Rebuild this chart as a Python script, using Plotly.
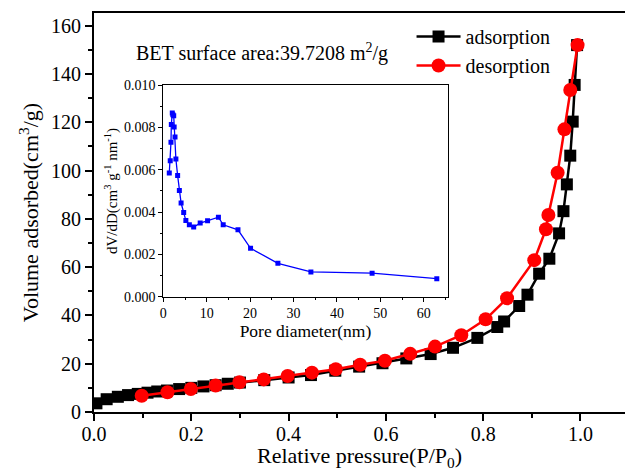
import plotly.graph_objects as go

# Main isotherm data
ads_p = [0.005, 0.026, 0.049, 0.070, 0.090, 0.110, 0.130, 0.150, 0.175, 0.200, 0.225, 0.250,
         0.275, 0.300, 0.350, 0.400, 0.446, 0.496, 0.545, 0.593, 0.642, 0.692, 0.738, 0.788,
         0.829, 0.843, 0.874, 0.891, 0.915, 0.936, 0.956, 0.965, 0.972, 0.979, 0.984, 0.988, 0.993]
ads_v = [3.6, 5.3, 6.3, 7.0, 7.5, 8.0, 8.5, 8.9, 9.5, 10.0, 10.6, 11.1,
         11.7, 12.2, 13.2, 14.3, 15.3, 17.1, 18.8, 20.2, 22.2, 24.0, 26.6, 30.7,
         35.2, 37.5, 43.9, 48.6, 57.3, 63.5, 74.0, 83.2, 94.3, 106.2, 120.3, 135.5, 152.0]

des_p = [0.098, 0.151, 0.199, 0.250, 0.299, 0.349, 0.398, 0.448, 0.497, 0.547, 0.598, 0.650,
         0.701, 0.755, 0.805, 0.849, 0.905, 0.929, 0.934, 0.953, 0.967, 0.979, 0.994]
des_v = [6.75, 8.2, 9.5, 11.0, 12.3, 13.5, 14.9, 16.3, 17.7, 19.6, 21.25, 24.1,
         27.1, 31.8, 38.4, 47.1, 62.9, 75.7, 81.6, 99.1, 117.1, 133.4, 152.0]

# Inset pore size distribution
pore_d = [1.38, 1.60, 1.77, 1.85, 2.07, 2.20, 2.40, 2.50, 2.70, 2.90, 3.30, 3.70, 4.10,
          4.70, 5.20, 6.00, 7.00, 8.50, 10.2, 12.7, 13.8, 17.2, 20.1, 26.4, 34.0, 48.1, 63.0]
pore_v = [0.00585, 0.00643, 0.00730, 0.00814, 0.00869, 0.00860, 0.00856, 0.00803, 0.00755,
          0.00651, 0.00573, 0.00502, 0.00443, 0.00398, 0.00360, 0.00340, 0.00329, 0.00348,
          0.00359, 0.00376, 0.00340, 0.00316, 0.00229, 0.00158, 0.00117, 0.00111, 0.00085]

main_xticks = [0.0, 0.2, 0.4, 0.6, 0.8, 1.0]
main_yticks = [0, 20, 40, 60, 80, 100, 120, 140, 160]
inset_xticks = [0, 10, 20, 30, 40, 50, 60]
inset_yticks = [0.000, 0.002, 0.004, 0.006, 0.008, 0.010]

FONT = "Liberation Serif"


def f(size):
    return dict(family=FONT, size=size, color="black")


fig = go.Figure()
fig.add_trace(go.Scatter(x=ads_p, y=ads_v, mode="lines+markers", name="adsorption",
                         line=dict(color="black", width=2.5),
                         marker=dict(symbol="square", size=12, color="black")))
fig.add_trace(go.Scatter(x=des_p, y=des_v, mode="lines+markers", name="desorption",
                         line=dict(color="#ff0000", width=2.5),
                         marker=dict(symbol="circle", size=14, color="#ff0000")))
fig.add_trace(go.Scatter(x=pore_d, y=pore_v, mode="lines+markers", showlegend=False,
                         xaxis="x2", yaxis="y2",
                         line=dict(color="#0000ff", width=1.3),
                         marker=dict(symbol="square", size=5, color="#0000ff")))

fig.update_layout(
    width=625, height=471,
    margin=dict(l=94, r=0, t=13, b=59),
    paper_bgcolor="white", plot_bgcolor="white",
    font=f(18),
    xaxis=dict(range=[0, 1.0915], tickvals=main_xticks, ticktext=["%.1f" % v for v in main_xticks],
               ticks="outside", ticklen=7, tickwidth=1.5, tickcolor="black",
               minor=dict(dtick=0.1, ticks="outside", ticklen=4, tickcolor="black", tickwidth=1.5),
               showline=True, linecolor="black", linewidth=2, mirror=True,
               showgrid=False, zeroline=False, tickfont=f(20), ticklabelstandoff=-4,
               title=dict(text="Relative pressure(P/P<sub>0</sub>)", font=f(22), standoff=4)),
    yaxis=dict(range=[0, 165.3], tickvals=main_yticks,
               ticks="outside", ticklen=7, tickwidth=1.5, tickcolor="black",
               minor=dict(dtick=10, ticks="outside", ticklen=4, tickcolor="black", tickwidth=1.5),
               showline=True, linecolor="black", linewidth=2, mirror=False,
               showgrid=False, zeroline=False, tickfont=f(20),
               title=dict(text="Volume adsorbed(cm<sup>3</sup>/g)", font=f(22), standoff=6)),
    xaxis2=dict(domain=[0.1305, 0.666], anchor="y2", range=[0, 65.5], tickvals=inset_xticks,
                ticks="outside", ticklen=4, tickcolor="black", tickwidth=1,
                minor=dict(dtick=5, ticks="outside", ticklen=2.5, tickcolor="black", tickwidth=1),
                showline=True, linecolor="black", linewidth=1, mirror=True,
                showgrid=False, zeroline=False, tickfont=f(14),
                title=dict(text="Pore diameter(nm)", font=f(17.5), standoff=3)),
    yaxis2=dict(domain=[0.289, 0.819], anchor="x2", range=[0, 0.010], tickvals=inset_yticks,
                ticktext=["%.3f" % v for v in inset_yticks],
                ticks="outside", ticklen=4, tickcolor="black", tickwidth=1,
                minor=dict(dtick=0.001, ticks="outside", ticklen=2.5, tickcolor="black", tickwidth=1),
                showline=True, linecolor="black", linewidth=1, mirror=True,
                showgrid=False, zeroline=False, tickfont=f(14),
                title=dict(text="dV/dD(cm<sup>3</sup> g<sup>-1</sup> nm<sup>-1</sup>)",
                           font=f(15), standoff=2)),
    legend=dict(x=0.598, y=0.99, xanchor="left", yanchor="top", bgcolor="rgba(0,0,0,0)",
                font=f(20), itemwidth=44, tracegroupgap=0),
    showlegend=True,
)

fig.add_annotation(text="BET surface area:39.7208 m<sup>2</sup>/g", xref="paper", yref="paper",
                   x=(134 - 94) / 531, y=(412 - 52) / 399, xanchor="left", yanchor="middle",
                   showarrow=False, font=f(20))

fig.write_html("out.html")
